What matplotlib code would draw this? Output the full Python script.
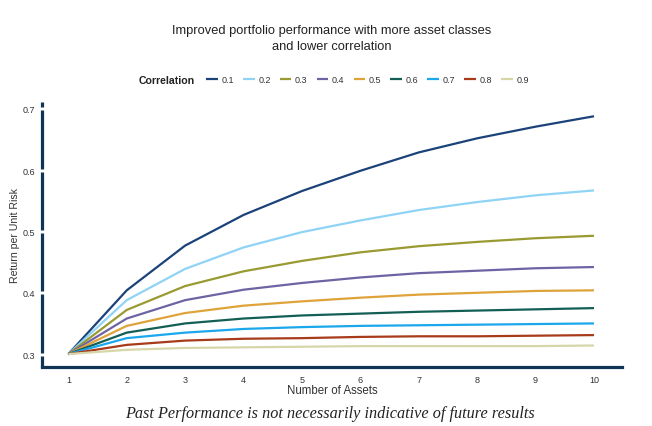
"""Return per unit risk vs number of assets, by correlation."""
import matplotlib
matplotlib.use('Agg')
import matplotlib.pyplot as plt

plt.rcParams['font.family'] = ['Liberation Sans', 'DejaVu Sans']

NAVY = '#0f3455'

assets = [1, 2, 3, 4, 5, 6, 7, 8, 9, 10]
corr_labels = ['0.1', '0.2', '0.3', '0.4', '0.5', '0.6', '0.7', '0.8', '0.9']

corr_01 = [0.300, 0.404, 0.477, 0.527, 0.566, 0.599, 0.629, 0.652, 0.671, 0.688]
corr_02 = [0.300, 0.388, 0.439, 0.474, 0.499, 0.518, 0.535, 0.548, 0.559, 0.567]
corr_03 = [0.300, 0.372, 0.411, 0.435, 0.452, 0.466, 0.476, 0.483, 0.489, 0.493]
corr_04 = [0.300, 0.358, 0.388, 0.405, 0.416, 0.425, 0.432, 0.436, 0.440, 0.442]
corr_05 = [0.300, 0.346, 0.367, 0.379, 0.386, 0.392, 0.397, 0.400, 0.403, 0.404]
corr_06 = [0.300, 0.335, 0.350, 0.358, 0.363, 0.366, 0.369, 0.371, 0.373, 0.375]
corr_07 = [0.300, 0.326, 0.335, 0.341, 0.344, 0.346, 0.347, 0.348, 0.349, 0.350]
corr_08 = [0.300, 0.315, 0.322, 0.325, 0.326, 0.328, 0.329, 0.329, 0.330, 0.331]
corr_09 = [0.300, 0.307, 0.310, 0.311, 0.312, 0.313, 0.313, 0.313, 0.313, 0.314]

series = [corr_01, corr_02, corr_03, corr_04, corr_05,
          corr_06, corr_07, corr_08, corr_09]
colors = ['#1b4279', '#8fd3f5', '#9a9a32', '#6e64a4', '#dfa33a',
          '#135e55', '#1aa7ec', '#a83b1a', '#d6d6a8']

y_ticks = [0.3, 0.4, 0.5, 0.6, 0.7]
y_lo, y_hi = 0.2788, 0.7114

fig = plt.figure(figsize=(6.52, 4.27), dpi=100)
ax = fig.add_axes([0.0644, 0.138, 0.8896, 0.621])

for vals, col, lab in zip(series, colors, corr_labels):
    ax.plot(assets, vals, color=col, lw=1.6, label=lab, solid_capstyle='butt')

ax.set_xlim(0.549, 10.48)
ax.set_ylim(y_lo, y_hi)
ax.set_xticks(assets)
ax.set_yticks(y_ticks)
ax.set_yticklabels([f'{t:.1f}' for t in y_ticks])
ax.tick_params(axis='both', length=0, labelsize=6.5, labelcolor='#333333')
ax.tick_params(axis='y', pad=5)
ax.tick_params(axis='x', pad=5.5)

for s in ['top', 'right', 'left']:
    ax.spines[s].set_visible(False)
ax.spines['bottom'].set_color(NAVY)
ax.spines['bottom'].set_linewidth(2.3)

# left spine drawn as pieces, broken at each tick
gap = 0.0025
edges = [y_lo] + [v for t in y_ticks for v in (t - gap, t + gap)] + [y_hi]
trans = ax.get_yaxis_transform()
for a, b in zip(edges[0::2], edges[1::2]):
    ax.plot([0, 0], [a, b], transform=trans, color=NAVY, lw=2.3,
            solid_capstyle='butt', clip_on=False)

ax.set_xlabel('Number of Assets', fontsize=8.3, color='#333333', labelpad=0)
ax.set_ylabel('Return per Unit Risk', fontsize=7.6, color='#333333', labelpad=2)

fig.text(0.509, 1 - 31 / 427, 'Improved portfolio performance with more asset classes',
         ha='center', va='center', fontsize=9.3, color='#222222')
fig.text(0.509, 1 - 47 / 427, 'and lower correlation',
         ha='center', va='center', fontsize=9.3, color='#222222')

fig.text(139 / 652, 1 - 80.5 / 427, 'Correlation', ha='left', va='center',
         fontsize=7.6, fontweight='bold', color='#222222')
handles, labels = ax.get_legend_handles_labels()
fig.legend(handles, labels, loc='center left', ncol=9, frameon=False,
           bbox_to_anchor=(206 / 652, 1 - 80.5 / 427), borderpad=0,
           borderaxespad=0, fontsize=6.5, handlelength=1.3,
           handletextpad=0.4, columnspacing=1.0, labelcolor='#333333')

fig.text(0.506, 1 - 414 / 427,
         'Past Performance is not necessarily indicative of future results',
         ha='center', va='center', fontsize=11.7, style='italic',
         family=['Liberation Serif', 'DejaVu Serif'], color='#222222')

fig.savefig('out.png', dpi=100)
plt.close(fig)
